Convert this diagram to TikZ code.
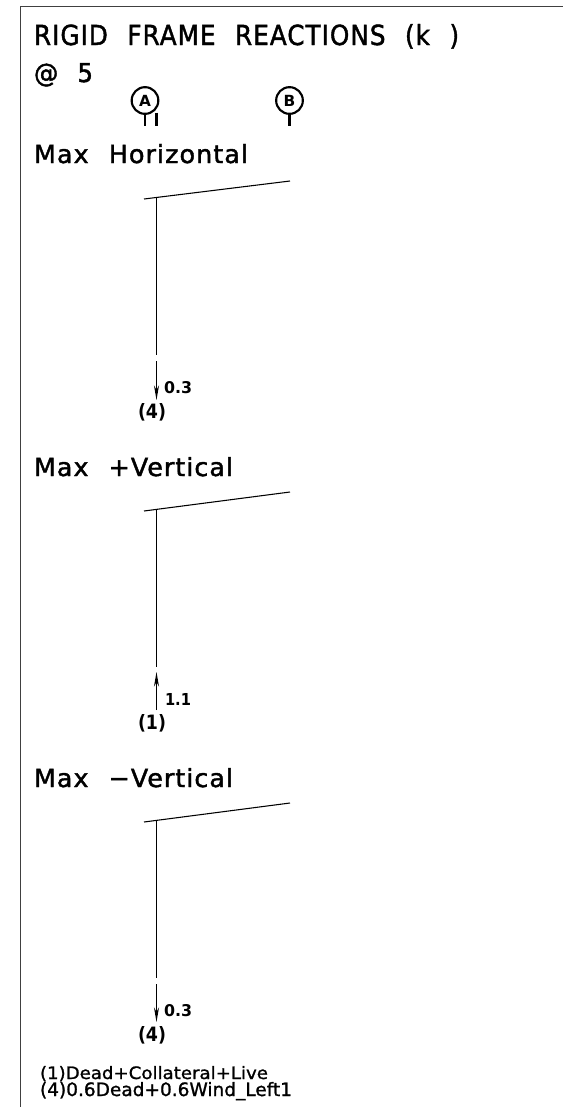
\documentclass[tikz,border=0pt]{standalone}
\usepackage{fontspec}
\setmainfont{DejaVu Sans}
\newfontfamily\hd[WordSpace=2.2,LetterSpace=4,FakeBold=1.6]{DejaVu Sans}
\newfontfamily\lgd[FakeBold=1.2]{DejaVu Sans}
\usetikzlibrary{arrows.meta}
\newdimen\cdimUnit
\cdimUnit=0.75pt
% width, height of the box above the baseline (px), text
\newcommand{\fitbox}[3]{\resizebox{#1\cdimUnit}{#2\cdimUnit}{#3}}
\tikzset{
  x=0.75pt,y=-0.75pt,
  ln/.style={draw=black,line width=0.8pt},
  frameln/.style={draw=black!75,line width=0.9pt},
  txt/.style={inner sep=0pt,outer sep=0pt,anchor=base west,text=black},
  bub/.style={draw=black,line width=1.6pt,circle,inner sep=0pt,minimum size=20pt},
  stem/.style={draw=black,line width=1.6pt},
  tipdown/.style={ln,-{Stealth[length=11pt,width=3.8pt,open,fill=white]}},
}
\begin{document}
\begin{tikzpicture}
\useasboundingbox (0,0) rectangle (563,1107);
\fill[white] (0,0) rectangle (563,1107);
\draw[frameln] (563,6.5) -- (20.5,6.5) -- (20.5,1107);
% headings
\node[txt] (title) at (34,45) {\fitbox{425}{21}{\hd RIGID FRAME REACTIONS (k )}};
\node[txt] (at5) at (34,82) {\fitbox{59}{19}{\hd @ 5}};
\node[txt] (h1) at (34,163) {\fitbox{214}{19}{\hd Max Horizontal}};
\node[txt] (h2) at (34,476) {\fitbox{199}{19}{\hd Max +Vertical}};
\node[txt] (h3) at (34,787) {\fitbox{199}{19}{\hd Max −Vertical}};
% bubbles
\node[bub] (A) at (145,100.5) {\fontsize{11.5}{11.5}\selectfont\bfseries A};
\node[bub] (B) at (289.5,100.5) {\fontsize{11.5}{11.5}\selectfont\bfseries B};
\coordinate (As) at (145,126);
\coordinate (Bs) at (289.5,126);
\draw[stem] (A) -- (As);
\draw[stem] (B) -- (Bs);
\coordinate (m1) at (156.5,112.5);
\coordinate (m2) at (156.5,126);
\draw[stem] (m1) -- (m2);
% frame 1
\coordinate (r1a) at (144,199); \coordinate (r1b) at (290,181);
\coordinate (c1a) at (156.5,198); \coordinate (c1b) at (156.5,355);
\coordinate (a1a) at (156.5,361); \coordinate (a1b) at (156.5,400);
\draw[ln] (r1a) -- (r1b);
\draw[ln] (c1a) -- (c1b);
\draw[tipdown] (a1a) -- (a1b);
\node[txt] (v1) at (164,393) {\fitbox{28}{12}{\bfseries 0.3}};
\node[txt] (p1) at (138,418) {\fitbox{28}{15}{\bfseries (4)}};
% frame 2
\coordinate (r2a) at (144,511); \coordinate (r2b) at (290,492);
\coordinate (c2a) at (156.5,510); \coordinate (c2b) at (156.5,667);
\coordinate (a2a) at (156.5,710); \coordinate (a2b) at (156.5,672);
\draw[ln] (r2a) -- (r2b);
\draw[ln] (c2a) -- (c2b);
\draw[tipdown] (a2a) -- (a2b);
\node[txt] (v2) at (165,705) {\fitbox{26}{12}{\bfseries 1.1}};
\node[txt] (p2) at (138,729) {\fitbox{28}{15}{\bfseries (1)}};
% frame 3
\coordinate (r3a) at (144,822); \coordinate (r3b) at (290,803);
\coordinate (c3a) at (156.5,821); \coordinate (c3b) at (156.5,978);
\coordinate (a3a) at (156.5,984); \coordinate (a3b) at (156.5,1022);
\draw[ln] (r3a) -- (r3b);
\draw[ln] (c3a) -- (c3b);
\draw[tipdown] (a3a) -- (a3b);
\node[txt] (v3) at (164,1016) {\fitbox{28}{12}{\bfseries 0.3}};
\node[txt] (p3) at (138,1041) {\fitbox{28}{15}{\bfseries (4)}};
% legend
\node[txt] (l1) at (40,1079) {\fitbox{228}{13}{\lgd (1)Dead+Collateral+Live}};
\node[txt] (l2) at (40,1096) {\fitbox{252}{14}{\lgd (4)0.6Dead+0.6Wind\_Left1}};
\end{tikzpicture}
\end{document}
